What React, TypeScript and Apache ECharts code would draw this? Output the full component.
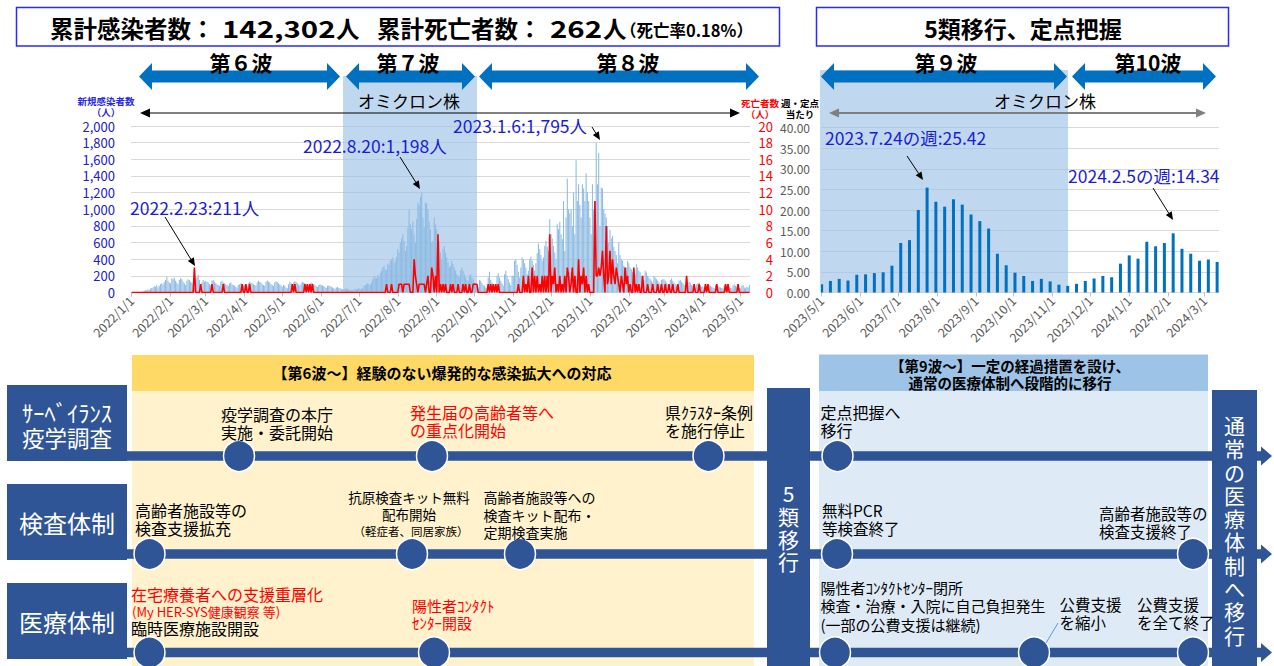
import React, { useEffect, useRef } from "react";
import * as echarts from "echarts";

const FONT = '"Noto Sans CJK JP", "Noto Sans", sans-serif';

// ---- daily new infections (人), 2022/1/1 .. 2023/5/8 ----
const cases2022Jan = [2,3,1,5,4,8,6,3,10,12,20,25,30,35,28,45,55,60,75,70,90,60,80,100,110,95,130,150,190,140,120];
const cases2022Feb = [110,170,160,180,140,120,100,150,170,160,130,110,90,140,160,150,130,120,100,150,160,180,211,150,100,120,150,130];
const cases2022Mar = [140,130,120,100,90,140,150,130,110,100,90,80,130,140,120,110,100,90,80,110,120,100,90,80,70,60,90,100,110,90,80];
const cases2022Apr = [90,80,70,110,130,120,110,100,90,80,120,140,130,120,100,90,80,130,145,130,120,100,90,80,120,135,125,110,95,85];
const cases2022May = [70,90,80,60,50,100,130,110,90,120,135,125,110,95,80,110,130,120,110,95,85,70,100,120,110,100,90,75,65,90,100];
const cases2022Jun = [90,85,75,65,55,80,85,75,70,60,50,45,60,65,55,50,45,40,35,45,50,40,35,30,28,25,35,40,38,45];
const cases2022Jul = [50,45,40,55,80,90,100,110,95,90,120,160,200,180,170,210,190,230,260,300,320,280,270,350,330,380,400,420,350,380,430];
const cases2022Aug = [520,480,600,650,700,620,500,560,780,1000,820,760,850,700,600,880,1080,1050,1150,1198,900,780,1080,1070,1000,850,760,600,620,900,820];
const cases2022Sep = [760,700,620,480,400,520,560,480,420,360,300,320,380,340,300,260,220,200,180,260,300,260,220,180,150,140,200,220,180,160];
const cases2022Oct = [120,100,80,60,150,140,110,90,80,60,50,180,250,150,120,90,70,60,200,230,180,140,110,80,220,260,200,160,120,90,200];
const cases2022Nov = [200,380,400,330,250,180,300,420,400,350,300,220,260,400,430,380,330,260,350,470,590,520,450,380,420,560,620,550,500,880];
const cases2022Dec = [700,650,560,480,400,820,760,850,700,640,1100,500,900,1370,1000,950,1000,800,1200,700,1590,1100,1300,1050,900,1300,1250,1100,1430,1200,1100];
const cases2023Jan = [900,700,1300,1000,1100,1795,1300,1680,800,1260,1250,1000,950,900,800,600,750,650,680,550,500,450,350,600,450,400,380,320,300,300,380];
const cases2023Feb = [350,300,280,250,200,220,340,300,260,240,200,180,150,260,240,200,180,160,140,120,200,180,160,140,120,100,150,160];
const cases2023Mar = [160,140,120,100,80,150,170,140,120,100,80,70,140,150,130,110,90,80,70,120,130,110,90,80,60,50,100,110,120,90,70];
const cases2023Apr = [70,60,50,80,100,90,80,70,60,50,90,100,80,70,60,55,50,80,90,75,70,60,55,50,85,95,80,70,60,55];
const cases2023May = [50,80,90,60,50,70,60,90];

const dailyCases = [
  ...cases2022Jan, ...cases2022Feb, ...cases2022Mar, ...cases2022Apr, ...cases2022May, ...cases2022Jun,
  ...cases2022Jul, ...cases2022Aug, ...cases2022Sep, ...cases2022Oct, ...cases2022Nov, ...cases2022Dec,
  ...cases2023Jan, ...cases2023Feb, ...cases2023Mar, ...cases2023Apr, ...cases2023May,
];

// ---- daily deaths (人): days with deaths, all other days 0 ----
const deathEvents: [string, number][] = [
  ["2022/2/20",3],["2022/2/25",1],["2022/3/6",1],["2022/3/15",1],["2022/3/30",1],["2022/4/2",1],["2022/4/5",1],
  ["2022/5/9",1],["2022/5/11",1],["2022/5/19",1],["2022/5/21",1],["2022/5/23",1],["2022/5/25",1],
  ["2022/7/23",1],["2022/7/27",1],["2022/8/2",1],["2022/8/3",1],["2022/8/4",1],["2022/8/6",1],["2022/8/7",1],
  ["2022/8/8",1],["2022/8/9",1],["2022/8/10",1],["2022/8/14",4],["2022/8/15",2],["2022/8/16",1],["2022/8/18",1],
  ["2022/8/19",1],["2022/8/20",1],["2022/8/21",1],["2022/8/22",1],["2022/8/24",1],["2022/8/25",2],["2022/8/28",3],
  ["2022/8/29",2],["2022/8/31",2],["2022/9/2",7],["2022/9/4",1],["2022/9/6",1],["2022/9/8",1],["2022/9/12",1],
  ["2022/9/14",1],["2022/9/18",1],["2022/9/22",1],["2022/9/24",1],["2022/9/27",1],["2022/9/30",1],["2022/10/1",1],
  ["2022/10/2",1],["2022/10/3",1],["2022/10/12",1],["2022/10/14",1],["2022/10/16",1],["2022/10/18",1],["2022/10/20",1],
  ["2022/11/5",1],["2022/11/9",2],["2022/11/11",1],["2022/11/13",2],["2022/11/16",3],["2022/11/18",2],["2022/11/20",2],
  ["2022/11/22",1],["2022/11/24",2],["2022/11/26",2],["2022/11/28",2],["2022/11/30",7],["2022/12/2",2],["2022/12/3",1],
  ["2022/12/4",3],["2022/12/6",1],["2022/12/8",2],["2022/12/10",1],["2022/12/12",2],["2022/12/14",3],["2022/12/15",2],
  ["2022/12/17",1],["2022/12/18",3],["2022/12/20",2],["2022/12/23",4],["2022/12/25",2],["2022/12/26",1],["2022/12/27",3],
  ["2022/12/29",2],["2022/12/31",1],["2023/1/5",11],["2023/1/6",2],["2023/1/7",2],["2023/1/8",3],["2023/1/9",2],
  ["2023/1/10",3],["2023/1/11",5],["2023/1/12",2],["2023/1/14",8],["2023/1/15",1],["2023/1/16",2],["2023/1/17",5],
  ["2023/1/18",1],["2023/1/19",4],["2023/1/20",2],["2023/1/21",1],["2023/1/22",3],["2023/1/23",2],["2023/1/24",1],
  ["2023/1/26",2],["2023/1/27",1],["2023/1/29",3],["2023/1/30",1],["2023/1/31",2],["2023/2/2",1],["2023/2/5",3],
  ["2023/2/7",1],["2023/2/9",1],["2023/2/12",2],["2023/2/16",1],["2023/2/20",1],["2023/2/24",1],["2023/2/27",1],
  ["2023/3/2",1],["2023/3/5",1],["2023/3/8",1],["2023/3/12",1],["2023/3/19",2],["2023/3/25",1],["2023/3/29",1],
  ["2023/4/3",1],["2023/4/5",1],["2023/4/12",1],["2023/4/19",1],["2023/4/21",1],["2023/4/29",1],
];

// ---- weekly sentinel values (週・定点当たり), weeks starting 2023/5/1 ----
const sentinelWeekly = [
  2.0, 2.8, 3.3, 2.9, 4.3, 4.4, 4.7, 4.9, 6.5, 12.0,
  12.7, 20.0, 25.42, 22.0, 20.8, 22.6, 21.3, 18.9, 17.3, 15.5,
  9.4, 6.6, 4.8, 4.0, 2.8, 3.3, 2.7, 1.9, 1.6, 2.1,
  2.8, 3.4, 4.0, 3.7, 7.0, 9.0, 8.2, 12.3, 11.2, 12.0,
  14.34, 10.6, 9.4, 7.7, 8.0, 7.4,
];
const sentinelSpanDays = 317;

function dateRange(y: number, m: number, d: number, n: number): string[] {
  const out: string[] = [];
  const t0 = Date.UTC(y, m - 1, d);
  for (let i = 0; i < n; i++) {
    const dt = new Date(t0 + i * 86400000);
    out.push(`${dt.getUTCFullYear()}/${dt.getUTCMonth() + 1}/${dt.getUTCDate()}`);
  }
  return out;
}
const isMonthStart = (_i: number, v: string) => String(v).split("/")[2] === "1";

const caseDates = dateRange(2022, 1, 1, dailyCases.length);
const dailyDeaths = caseDates.map(() => 0);
const dateIdx = new Map(caseDates.map((d, i) => [d, i]));
deathEvents.forEach(([d, v]) => {
  const i = dateIdx.get(d);
  if (i !== undefined) dailyDeaths[i] = v;
});
const sentinelDates = dateRange(2023, 5, 1, sentinelSpanDays);
const sentinelDaily: (number | null)[] = sentinelDates.map(() => null);
sentinelWeekly.forEach((v, i) => { sentinelDaily[i * 7] = v; });

// ---------- graphic helpers ----------
const BLUE_DARK = "#2f5597";
const ANN = "#1c1cd2";

function T(x: number, y: number, text: string, size: number, opts: any = {}) {
  const align = opts.align || "left";
  const va = opts.va || "middle";
  return {
    type: "text", x, y, z: opts.z ?? 60,
    scaleX: opts.scaleX ?? 1,
    style: {
      text, fill: opts.color || "#000",
      font: `${opts.weight || "normal"} ${size}px ${FONT}`,
      align, textAlign: align, verticalAlign: va, textVerticalAlign: va,
      lineHeight: opts.lh || size * 1.2,
    },
  };
}
function ML(x: number, yFirst: number, lines: string[], size: number, lh: number, opts: any = {}) {
  return T(x, yFirst - lh / 2, lines.join("\n"), size, { ...opts, va: "top", lh });
}
function arrowLine(x1: number, y1: number, x2: number, y2: number, color = "#000", w = 1, head = 8, half = 3.5) {
  const a = Math.atan2(y2 - y1, x2 - x1);
  const hx = x2 - head * Math.cos(a), hy = y2 - head * Math.sin(a);
  const px = Math.sin(a) * half, py = -Math.cos(a) * half;
  return [
    { type: "line", z: 60, shape: { x1, y1, x2: hx, y2: hy }, style: { stroke: color, lineWidth: w } },
    { type: "polygon", z: 60, shape: { points: [[x2, y2], [hx + px, hy + py], [hx - px, hy - py]] }, style: { fill: color } },
  ];
}
function dblArrowLine(x1: number, x2: number, y: number, color: string, w: number) {
  return [
    { type: "line", z: 60, shape: { x1: x1 + 8, y1: y, x2: x2 - 8, y2: y }, style: { stroke: color, lineWidth: w } },
    { type: "polygon", z: 60, shape: { points: [[x1, y], [x1 + 10, y - 4.5], [x1 + 10, y + 4.5]] }, style: { fill: color } },
    { type: "polygon", z: 60, shape: { points: [[x2, y], [x2 - 10, y - 4.5], [x2 - 10, y + 4.5]] }, style: { fill: color } },
  ];
}
function waveArrow(x1: number, x2: number, cy: number) {
  const h = 13, H = 13.5, b = 6;
  return {
    type: "polygon", z: 40,
    shape: { points: [[x1, cy], [x1 + h, cy - H], [x1 + h, cy - b], [x2 - h, cy - b], [x2 - h, cy - H], [x2, cy],
      [x2 - h, cy + H], [x2 - h, cy + b], [x1 + h, cy + b], [x1 + h, cy + H]] },
    style: { fill: "#0070c0" },
  };
}
const rect = (x: number, y: number, w: number, h: number, fill: string, z = 20, extra: any = {}) =>
  ({ type: "rect", z, shape: { x, y, width: w, height: h }, style: { fill, ...extra } });
const circ = (cx: number, cy: number) =>
  ({ type: "circle", z: 40, shape: { cx, cy, r: 15.5 }, style: { fill: BLUE_DARK, stroke: "#fff", lineWidth: 1.5 } });

function buildGraphics() {
  const g: any[] = [];
  // shading (オミクロン period backgrounds)
  g.push(rect(343, 76, 134, 216.5, "rgba(157,195,230,0.65)", 1));
  g.push(rect(820, 70, 248, 222.5, "rgba(157,195,230,0.65)", 1));
  // title boxes
  g.push(rect(16.5, 7.5, 763, 38.5, "#fff", 20, { stroke: "#2a2aff", lineWidth: 1.5 }));
  g.push(rect(816.5, 7.5, 412, 38.5, "#fff", 20, { stroke: "#2a2aff", lineWidth: 1.5 }));
  const tw = "bold";
  g.push(T(50, 28, "累計感染者数：", 23.5, { weight: tw }));
  g.push(T(222, 28, "142,302", 23.5, { scaleX: 1.25, weight: tw }));
  g.push(T(336, 28, "人", 23.5, { weight: tw }));
  g.push(T(377, 28, "累計死亡者数：", 23.5, { weight: tw }));
  g.push(T(550, 28, "262", 23.5, { scaleX: 1.25, weight: tw }));
  g.push(T(603, 28, "人", 23.5, { weight: tw }));
  g.push(T(620, 30, "（死亡率0.18%）", 16.5, { weight: tw }));
  g.push(T(1023, 28, "5類移行、定点把握", 23, { align: "center", weight: tw }));
  // wave arrows
  [[139, 340], [346, 475], [479, 759], [821, 1067], [1072, 1216]].forEach(([a, b]) => g.push(waveArrow(a, b, 76.5)));
  [[241, "第６波"], [408, "第７波"], [628, "第８波"], [946, "第９波"], [1148, "第10波"]].forEach(([x, t]) =>
    g.push(T(x as number, 61.5, t as string, 21, { align: "center", weight: "bold" })));
  // オミクロン株
  g.push(T(409, 100.5, "オミクロン株", 17, { align: "center" }));
  g.push(...dblArrowLine(140, 740, 113, "#000", 1));
  g.push(T(1045, 100.5, "オミクロン株", 17, { align: "center" }));
  g.push(...dblArrowLine(829, 1206, 113, "#7f7f7f", 2));
  // axis names
  g.push(ML(106, 101, ["新規感染者数", "（人）"], 9.5, 11, { align: "center", color: "#2a2ae0", weight: "bold" }));
  g.push(ML(760, 103, ["死亡者数", "（人）"], 9.5, 11, { align: "center", color: "#ff0000", weight: "bold" }));
  g.push(ML(800, 103, ["週・定点", "当たり"], 9.5, 11, { align: "center", color: "#000", weight: "bold" }));
  // annotations
  const af = 17.5;
  g.push(T(130, 207, "2022.2.23:211人", af, { color: ANN }));
  g.push(...arrowLine(165, 217, 195, 266));
  g.push(T(303, 145, "2022.8.20:1,198人", af, { color: ANN }));
  g.push(...arrowLine(400, 157, 420, 189));
  g.push(T(453, 125, "2023.1.6:1,795人", af, { color: ANN }));
  g.push(...arrowLine(592, 127, 600, 140));
  g.push(T(825, 137, "2023.7.24の週:25.42", af, { color: ANN }));
  g.push(...arrowLine(907, 156, 923, 180));
  g.push(T(1068, 175, "2024.2.5の週:14.34", af, { color: ANN }));
  g.push(...arrowLine(1153, 188, 1173, 220));

  // ---------- bottom timeline ----------
  g.push(rect(132, 355, 622, 36, "#ffd966", 10));
  g.push(rect(132, 391, 622, 275, "#fff2cc", 10));
  g.push(T(442, 372, "【第6波～】経験のない爆発的な感染拡大への対応", 15, { align: "center", weight: "bold" }));
  g.push(rect(819, 354.5, 389, 36.5, "#9dc3e6", 10));
  g.push(rect(819, 391, 389, 275, "#deebf7", 10));
  g.push(ML(1010, 365, ["【第9波～】一定の経過措置を設け、", "通常の医療体制へ段階的に移行"], 14.5, 17, { align: "center", weight: "bold" }));

  const rowY = [456, 554, 652.5];
  rowY.forEach((y) => {
    g.push(rect(127, y - 4.75, 1136, 9.5, BLUE_DARK, 30));
    g.push({ type: "polygon", z: 30, shape: { points: [[1261, y - 9.5], [1272, y], [1261, y + 9.5]] }, style: { fill: BLUE_DARK } });
  });
  // row label boxes
  g.push(rect(7, 385, 120, 76, BLUE_DARK, 32));
  g.push(rect(7, 484, 120, 76, BLUE_DARK, 32));
  g.push(rect(7, 583, 120, 76, BLUE_DARK, 32));
  g.push(ML(67, 411.5, ["ｻｰﾍﾞｲﾗﾝｽ", "疫学調査"], 22.5, 25.5, { align: "center", color: "#fff" }));
  g.push(T(67, 522, "検査体制", 24, { align: "center", color: "#fff" }));
  g.push(T(67, 621, "医療体制", 24, { align: "center", color: "#fff" }));
  // 5類移行 box & right box
  g.push(rect(767, 388, 43, 278, BLUE_DARK, 32));
  g.push(ML(788.5, 493, ["5", "類", "移", "行"], 21, 22.8, { align: "center", color: "#fff" }));
  g.push(rect(1212, 390, 45, 276, BLUE_DARK, 32));
  g.push(ML(1234.5, 425, ["通", "常", "の", "医", "療", "体", "制", "へ", "移", "行"], 21, 23.3, { align: "center", color: "#fff" }));
  // circles
  [239, 432, 708.5, 837.5].forEach((x) => g.push(circ(x, rowY[0])));
  [149.5, 412, 520, 837, 1193].forEach((x) => g.push(circ(x, rowY[1])));
  [149.5, 434, 835, 1034, 1193].forEach((x) => g.push(circ(x, rowY[2])));
  g.push({ type: "line", z: 41, shape: { x1: 1046, y1: 643, x2: 1058, y2: 623 }, style: { stroke: "#5b9bd5", lineWidth: 1 } });

  // row 1 texts
  g.push(ML(221, 414, ["疫学調査の本庁", "実施・委託開始"], 16, 18));
  g.push(ML(410, 412, ["発生届の高齢者等へ", "の重点化開始"], 16, 18, { color: "#ff0000" }));
  g.push(ML(665, 412, ["県ｸﾗｽﾀｰ条例", "を施行停止"], 16, 18));
  g.push(ML(820.5, 412, ["定点把握へ", "移行"], 16, 18));
  // row 2 texts
  g.push(ML(135, 510, ["高齢者施設等の", "検査支援拡充"], 16, 18));
  g.push(ML(409, 497, ["抗原検査キット無料", "配布開始"], 13.5, 17, { align: "center" }));
  g.push(T(411, 531, "（軽症者、同居家族）", 11.5, { align: "center" }));
  g.push(ML(483.5, 497, ["高齢者施設等への", "検査キット配布・", "定期検査実施"], 14, 17.5));
  g.push(ML(822, 510, ["無料PCR", "等検査終了"], 15.5, 18));
  g.push(ML(1099, 512.5, ["高齢者施設等の", "検査支援終了"], 15.5, 18));
  // row 3 texts
  g.push(T(131, 594, "在宅療養者への支援重層化", 16, { color: "#ff0000" }));
  g.push(T(132, 611, "(My HER-SYS健康観察 等)", 13, { color: "#ff0000" }));
  g.push(T(131, 627.5, "臨時医療施設開設", 16));
  g.push(ML(412, 605.5, ["陽性者ｺﾝﾀｸﾄ", "ｾﾝﾀｰ開設"], 15, 17.2, { color: "#ff0000" }));
  g.push(ML(820.5, 587, ["陽性者ｺﾝﾀｸﾄｾﾝﾀｰ閉所", "検査・治療・入院に自己負担発生", "(一部の公費支援は継続)"], 15, 18.5));
  g.push(ML(1059.5, 604, ["公費支援", "を縮小"], 15.5, 18));
  g.push(ML(1137, 604, ["公費支援", "を全て終了"], 15.5, 18));
  return g;
}

export default function App() {
  const ref = useRef<HTMLDivElement>(null);
  useEffect(() => {
    if (!ref.current) return;
    const chart = echarts.init(ref.current, null, { renderer: "svg" });
    const xCommon = (gridIndex: number, data: string[]) => ({
      type: "category", gridIndex, data, boundaryGap: true,
      axisLine: { lineStyle: { color: "#d9d9d9" } },
      axisTick: { show: true, alignWithLabel: true, interval: isMonthStart, length: 4, lineStyle: { color: "#bfbfbf" } },
      axisLabel: { interval: isMonthStart, rotate: 45, fontSize: 12.5, color: "#595959", margin: 6, fontFamily: FONT },
    });
    chart.setOption({
      animation: false,
      backgroundColor: "#fff",
      textStyle: { fontFamily: FONT },
      grid: [
        { left: 131, top: 126, width: 619, height: 166.5 },
        { left: 821, top: 127.5, width: 398, height: 165 },
      ],
      xAxis: [xCommon(0, caseDates), xCommon(1, sentinelDates)],
      yAxis: [
        {
          type: "value", gridIndex: 0, min: 0, max: 2000, interval: 200,
          axisLabel: { color: "#2020d0", fontSize: 13, margin: 16, fontFamily: FONT, formatter: (v: number) => v.toLocaleString("en-US") },
          splitLine: { lineStyle: { color: "#d9d9d9" } }, axisLine: { show: false }, axisTick: { show: false },
        },
        {
          type: "value", gridIndex: 0, position: "right", min: 0, max: 20, interval: 2,
          axisLabel: { color: "#ff0000", fontSize: 13, align: "right", margin: 23, fontFamily: FONT },
          splitLine: { show: false }, axisLine: { show: false }, axisTick: { show: false },
        },
        {
          type: "value", gridIndex: 1, min: 0, max: 40, interval: 5,
          axisLabel: { color: "#595959", fontSize: 12, margin: 11, fontFamily: FONT, formatter: (v: number) => v.toFixed(2) },
          splitLine: { lineStyle: { color: "#d9d9d9" } }, axisLine: { show: false }, axisTick: { show: false },
        },
      ],
      series: [
        {
          type: "bar", name: "新規感染者数", xAxisIndex: 0, yAxisIndex: 0, data: dailyCases,
          barCategoryGap: "15%", itemStyle: { color: "#8ebbe3" }, silent: true,
        },
        {
          type: "line", name: "死亡者数", xAxisIndex: 0, yAxisIndex: 1, data: dailyDeaths,
          symbol: "none", lineStyle: { color: "#ff0000", width: 1.6 }, z: 3, silent: true,
        },
        {
          type: "bar", name: "週・定点当たり", xAxisIndex: 1, yAxisIndex: 2, data: sentinelDaily,
          barWidth: 3, itemStyle: { color: "#0070c0" }, silent: true,
        },
      ],
      graphic: { elements: buildGraphics() },
    });
    return () => chart.dispose();
  }, []);
  return <div ref={ref} style={{ position: "fixed", left: 0, top: 0, width: 1274, height: 666, background: "#fff" }} />;
}
